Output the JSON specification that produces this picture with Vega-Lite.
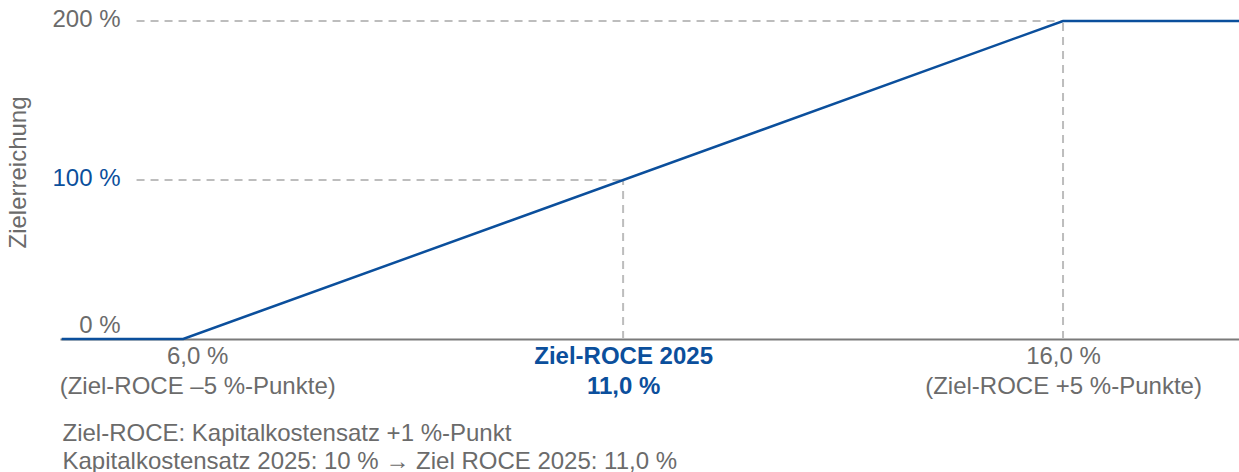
{
  "$schema": "https://vega.github.io/schema/vega-lite/v6.json",
  "autosize": "none",
  "width": 1179,
  "height": 318,
  "padding": {"left": 60, "top": 21, "right": 0, "bottom": 133},
  "background": "white",
  "config": {
    "view": {"stroke": null},
    "font": "Liberation Sans"
  },
  "datasets": {
    "curve": [
      {"roce": 4.62, "ziel": 0},
      {"roce": 6, "ziel": 0},
      {"roce": 16, "ziel": 200},
      {"roce": 18, "ziel": 200}
    ],
    "guides": [
      {"x1": 5.47, "x2": 11, "y1": 100, "y2": 100},
      {"x1": 5.47, "x2": 16, "y1": 200, "y2": 200},
      {"x1": 11, "x2": 11, "y1": 0, "y2": 100},
      {"x1": 16, "x2": 16, "y1": 0, "y2": 200}
    ]
  },
  "layer": [
    {
      "data": {"name": "guides"},
      "mark": {"type": "rule", "color": "#bdbdbd", "strokeWidth": 2, "strokeDash": [8, 6]},
      "encoding": {
        "x": {"field": "x1", "type": "quantitative", "scale": {"domain": [4.6, 18], "nice": false, "zero": false}},
        "x2": {"field": "x2"},
        "y": {"field": "y1", "type": "quantitative", "scale": {"domain": [0, 200], "nice": false}},
        "y2": {"field": "y2"}
      }
    },
    {
      "data": {"name": "curve"},
      "mark": {"type": "line", "color": "#0b4f9c", "strokeWidth": 2.5},
      "encoding": {
        "x": {
          "field": "roce", "type": "quantitative",
          "scale": {"domain": [4.6, 18], "nice": false, "zero": false},
          "axis": {
            "values": [6, 11, 16],
            "grid": false,
            "ticks": false,
            "tickSize": 0,
            "domain": true,
            "domainColor": "#7a7a7a",
            "domainWidth": 2,
            "labelFontSize": 24,
            "labelFont": "Liberation Sans",
            "labelColor": {"condition": {"test": "datum.value === 11", "value": "#0b4f9c"}, "value": "#6b6b6b"},
            "labelFontWeight": {"condition": {"test": "datum.value === 11", "value": "bold"}, "value": "normal"},
            "labelOffset": {"condition": {"test": "datum.value === 6", "value": 14}, "value": 0},
            "labelBaseline": "top",
            "labelAlign": "center",
            "labelPadding": 5,
            "labelLineHeight": 30,
            "labelLimit": 0,
            "labelFlush": false,
            "labelOverlap": false,
            "labelExpr": "datum.value === 6 ? ['6,0 %', '(Ziel-ROCE –5 %-Punkte)'] : datum.value === 11 ? ['Ziel-ROCE 2025', '11,0 %'] : ['16,0 %', '(Ziel-ROCE +5 %-Punkte)']",
            "title": ["Ziel-ROCE: Kapitalkostensatz +1 %-Punkt", "Kapitalkostensatz 2025: 10 % → Ziel ROCE 2025: 11,0 %"],
            "titleFontSize": 24,
            "titleFont": "Liberation Sans",
            "titleFontWeight": "normal",
            "titleColor": "#6b6b6b",
            "titleAnchor": "start",
            "titleAlign": "left",
            "titleBaseline": "alphabetic",
            "titleX": 2,
            "titleY": 101,
            "titleLineHeight": 28,
            "titleLimit": 0
          }
        },
        "y": {
          "field": "ziel", "type": "quantitative",
          "scale": {"domain": [0, 200], "nice": false},
          "axis": {
            "values": [0, 100, 200],
            "grid": false,
            "ticks": false,
            "tickSize": 0,
            "domain": false,
            "labelFontSize": 24,
            "labelFont": "Liberation Sans",
            "labelColor": {"condition": {"test": "datum.value === 100", "value": "#0b4f9c"}, "value": "#6b6b6b"},
            "labelOffset": {"condition": {"test": "datum.value === 0", "value": -14}, "value": -2},
            "labelAlign": "right",
            "labelBaseline": "middle",
            "labelPadding": -60,
            "labelFlush": false,
            "labelOverlap": false,
            "labelExpr": "datum.value + ' %'",
            "title": "Zielerreichung",
            "titleFontSize": 24,
            "titleFont": "Liberation Sans",
            "titleFontWeight": "normal",
            "titleColor": "#6b6b6b",
            "titleAngle": -90,
            "titleAlign": "center",
            "titleBaseline": "middle",
            "titleX": -42,
            "titleY": 151,
            "titleLimit": 0
          }
        }
      }
    }
  ]
}
